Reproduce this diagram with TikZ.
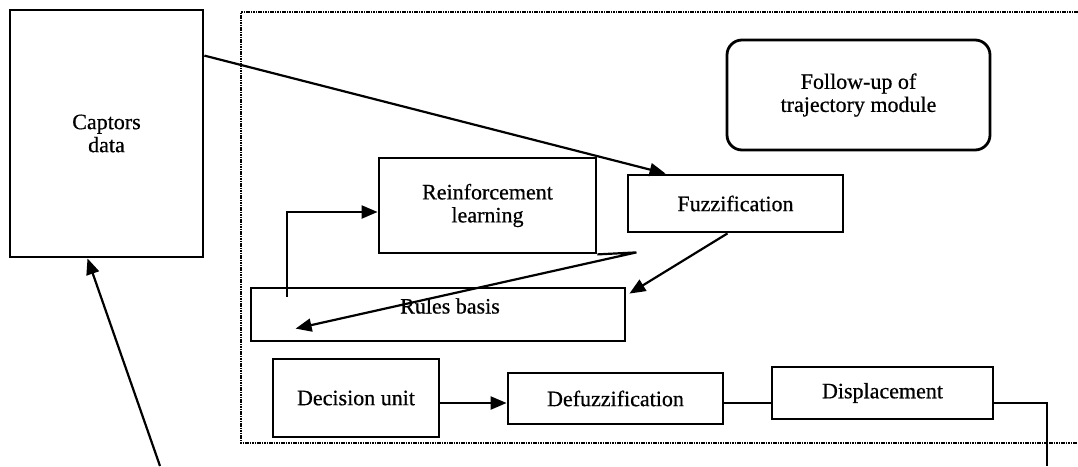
\documentclass[tikz,border=0pt]{standalone}
\usepackage{fontspec}
\setmainfont{Liberation Serif}[FakeBold=0.6]
\usetikzlibrary{arrows.meta,calc}
\begin{document}
\begin{tikzpicture}[x=1pt,y=-1pt,
  txt/.style={inner sep=0pt,align=center,font=\fontsize{22}{23}\selectfont},
  box/.style={txt,draw,line width=2.8pt},
  arr/.style={line width=2.2pt,-{Triangle[length=16pt,width=13pt]}},
  wire/.style={line width=2.2pt},
  frame/.style={line width=1.3pt,dash pattern=on 1.6pt off 0.8pt}]
\useasboundingbox (0,0) rectangle (1078,466);

% processing frame, open on the right
\draw[frame] (1078,12) -- (241,12) -- (241,443) -- (1078,443);

% blocks
\node[box,minimum width=193pt,minimum height=247pt] (cd) at (106.5,133.5) {Captors\\data};
\node[box,rounded corners=15pt,minimum width=263pt,minimum height=110pt] (fu) at (858.5,95) {Follow-up of\\trajectory module};
\node[box,minimum width=215pt,minimum height=57pt] (fz) at (735.5,203.5) {Fuzzification};
\node[box,minimum width=217pt,minimum height=95pt] (rl) at (487.5,205.5) {Reinforcement\\learning};
\node[box,minimum width=374pt,minimum height=53pt] (rb) at (438,314.5) {};
\node[txt] (rbt) at (450,306) {Rules basis};
\node[box,minimum width=166pt,minimum height=78pt] (dec) at (356,398) {Decision unit};
\node[box,minimum width=215pt,minimum height=51pt] (df) at (615.5,398.5) {Defuzzification};
\node[box,minimum width=221pt,minimum height=52pt] (dp) at (882.5,393) {Displacement};

% helper coordinates
\coordinate (ly) at (0,403);
\coordinate (bot) at (160,466);
\coordinate (out) at (1047,466);

% connectors
\draw[arr] ($(cd.north east)+(0,47)$) -- ($(fz.north west)+(39,0)$);
\draw[arr] (bot) -- ($(cd.south)+(-19,0)$);
\draw[arr] ($(rb.north west)+(37,10)$) |- ($(rl.west)+(0,6.5)$);
\draw[arr] (rl.south east) -- ++(39,-2) -- ($(rb.north west)+(46,42)$);
\draw[arr] ($(fz.south)+(-8,0)$) -- ($(rb.north east)+(3,7)$);
\draw[arr] (dec.east |- ly) -- (df.west |- ly);
\draw[wire] (df.east |- ly) -- (dp.west |- ly);
\draw[wire] (dp.east |- ly) -| (out);
\end{tikzpicture}
\end{document}
